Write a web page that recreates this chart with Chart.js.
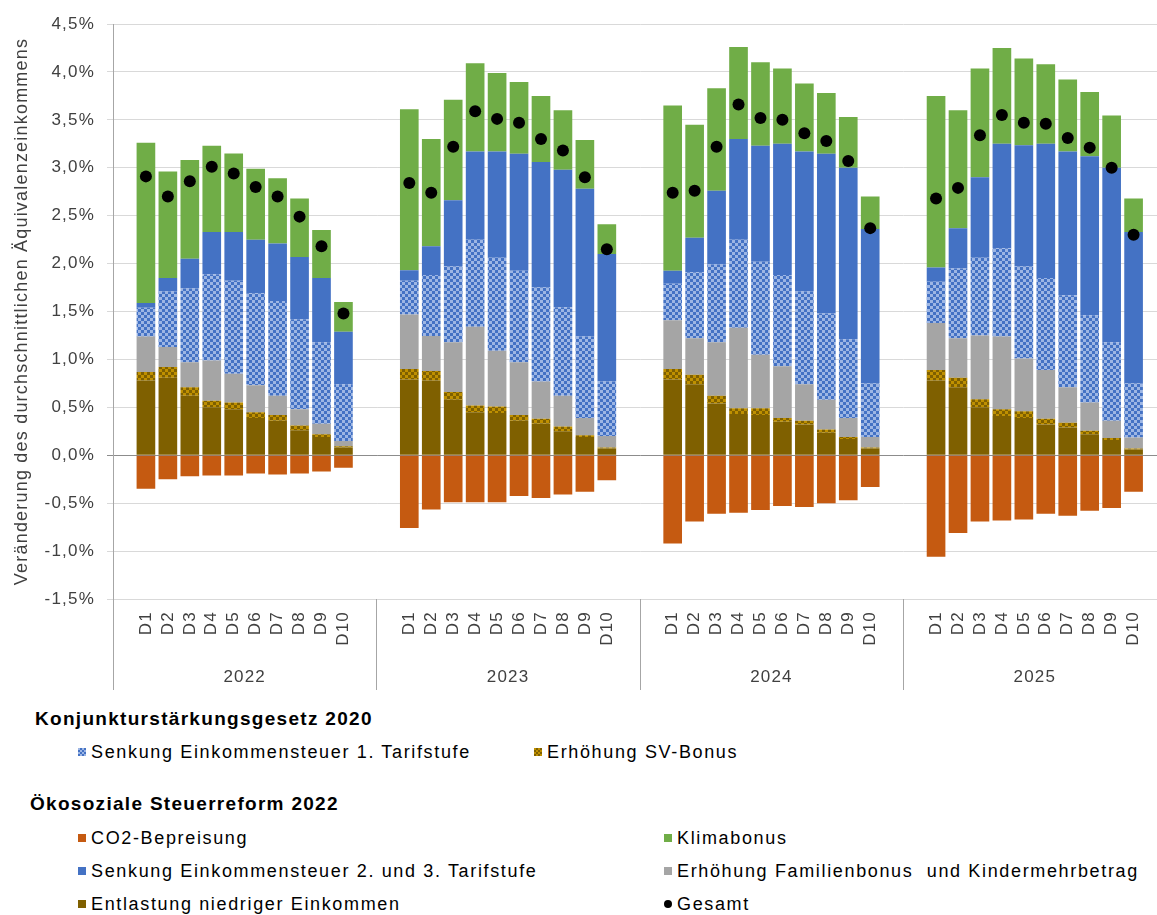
<!DOCTYPE html>
<html>
<head>
<meta charset="utf-8">
<script src="https://cdn.jsdelivr.net/npm/chart.js@4.4.0/dist/chart.umd.min.js"></script>
<style>
  body { margin:0; background:#fff; overflow:hidden; width:1157px; height:915px; }
  #wrap { position:absolute; left:0; top:0; width:1190px; height:700px; }
  .lg { position:absolute; font-family:"Liberation Sans", Arial, sans-serif; color:#000; white-space:nowrap; }
  .head { font-size:19px; font-weight:bold; letter-spacing:1.3px; line-height:22px; }
  .item { font-size:18px; letter-spacing:1.65px; line-height:22px; display:flex; align-items:center; }
  .sw { display:inline-block; width:8px; height:8px; margin-right:5px; }
</style>
</head>
<body>
<div id="wrap"><canvas id="chart" width="1188" height="700"></canvas></div>
<div id="legend"></div>
<script>
// values in % change of mean equivalised income, order: 2022 D1..D10, 2023 .., 2024 .., 2025 ..
var years = ['2022', '2023', '2024', '2025']
var deciles = ['D1','D2','D3','D4','D5','D6','D7','D8','D9','D10']

var entlastung = [0.78,0.81,0.62,0.50,0.48,0.39,0.36,0.26,0.19,0.08,
                  0.79,0.78,0.58,0.45,0.44,0.36,0.33,0.25,0.19,0.07,
                  0.79,0.74,0.54,0.43,0.42,0.35,0.32,0.235,0.17,0.07,
                  0.78,0.71,0.50,0.41,0.39,0.32,0.29,0.22,0.16,0.06]
var svBonus = [0.09,0.11,0.09,0.07,0.07,0.06,0.06,0.05,0.03,0.015,
               0.11,0.10,0.08,0.07,0.07,0.06,0.05,0.05,0.02,0.01,
               0.11,0.10,0.08,0.06,0.07,0.04,0.04,0.035,0.02,0.01,
               0.11,0.10,0.085,0.07,0.07,0.06,0.05,0.035,0.02,0.01]
var familienbonus = [0.37,0.21,0.26,0.42,0.30,0.28,0.20,0.17,0.11,0.055,
                     0.57,0.365,0.52,0.82,0.58,0.55,0.39,0.32,0.18,0.12,
                     0.51,0.38,0.56,0.84,0.56,0.54,0.38,0.31,0.20,0.11,
                     0.49,0.41,0.665,0.76,0.55,0.51,0.37,0.295,0.18,0.115]
var est1 = [0.30,0.58,0.77,0.90,0.97,0.96,0.99,0.94,0.85,0.59,
            0.35,0.635,0.79,0.91,0.97,0.955,0.98,0.925,0.85,0.57,
            0.38,0.69,0.81,0.92,0.97,0.95,0.97,0.90,0.82,0.56,
            0.43,0.73,0.81,0.92,0.96,0.96,0.96,0.91,0.82,0.565]
var est23 = [0.05,0.14,0.31,0.44,0.51,0.56,0.60,0.65,0.67,0.55,
             0.11,0.30,0.69,0.92,1.11,1.22,1.31,1.435,1.54,1.33,
             0.135,0.36,0.77,1.05,1.21,1.37,1.46,1.665,1.79,1.61,
             0.15,0.42,0.84,1.09,1.265,1.40,1.50,1.66,1.82,1.58]
var klimabonus = [1.67,1.11,1.03,0.90,0.82,0.74,0.68,0.61,0.50,0.31,
                  1.68,1.12,1.05,0.92,0.82,0.75,0.69,0.62,0.51,0.31,
                  1.725,1.18,1.07,0.96,0.87,0.785,0.71,0.635,0.53,0.34,
                  1.79,1.23,1.135,1.00,0.905,0.83,0.75,0.67,0.545,0.35]
var co2 = [-0.35,-0.25,-0.22,-0.21,-0.21,-0.19,-0.20,-0.19,-0.17,-0.13,
           -0.76,-0.565,-0.49,-0.49,-0.49,-0.425,-0.445,-0.41,-0.38,-0.26,
           -0.92,-0.69,-0.61,-0.60,-0.57,-0.53,-0.54,-0.50,-0.47,-0.33,
           -1.06,-0.81,-0.69,-0.68,-0.67,-0.61,-0.63,-0.58,-0.55,-0.38]
var gesamt = [2.91,2.70,2.86,3.01,2.94,2.80,2.70,2.49,2.18,1.48,
              2.84,2.74,3.22,3.59,3.51,3.47,3.30,3.18,2.90,2.15,
              2.74,2.76,3.22,3.66,3.52,3.50,3.36,3.28,3.07,2.37,
              2.68,2.79,3.34,3.55,3.47,3.46,3.31,3.21,3.00,2.30]

var yTicks = [-1.5,-1.0,-0.5,0,0.5,1.0,1.5,2.0,2.5,3.0,3.5,4.0,4.5]

// every year gets an empty slot before and after its ten deciles
var slotsPerYear = 12
function pad(arr, blank) {
  var out = []
  for (var y = 0; y < years.length; y++) {
    out.push(blank)
    for (var d = 0; d < deciles.length; d++) out.push(arr[y*10 + d])
    out.push(blank)
  }
  return out
}
var labels = pad(years.flatMap(function(){ return deciles }), '')

var ctx = document.getElementById('chart').getContext('2d')

function checker(c1, c2, s) {
  var cv = document.createElement('canvas')
  cv.width = cv.height = 2*s
  var x = cv.getContext('2d')
  x.fillStyle = c1; x.fillRect(0, 0, 2*s, 2*s)
  x.fillStyle = c2; x.fillRect(0, 0, s, s); x.fillRect(s, s, s, s)
  return ctx.createPattern(cv, 'repeat')
}

var cBrown = '#7F6000', cGold = '#BF9000', cGray = '#A5A5A5', cBlue = '#4472C4',
    cLightBlue = '#9DB6E4', cGreen = '#70AD47', cOrange = '#C55A11'

var font = '"Liberation Sans", Arial, sans-serif'
var textColor = '#404040'

function setSpacing(chart) { chart.ctx.letterSpacing = '1.2px' }

var extras = {
  id: 'extras',
  beforeUpdate: setSpacing,
  beforeLayout: setSpacing,
  beforeDraw: setSpacing,
  afterDraw: function(chart) {
    var xs = chart.scales.x, area = chart.chartArea, c = chart.ctx
    var slot = (xs.right - xs.left) / labels.length
    c.save()
    c.strokeStyle = '#A6A6A6'
    c.lineWidth = 1
    for (var g = 0; g <= years.length; g++) {
      var x = Math.round(xs.left + g*slotsPerYear*slot) + 0.5
      c.beginPath()
      c.moveTo(x, g === 0 ? area.top : area.bottom)
      c.lineTo(x, area.bottom + 91)
      c.stroke()
    }
    c.fillStyle = textColor
    c.font = '17px ' + font
    c.textAlign = 'center'
    c.textBaseline = 'middle'
    for (var g = 0; g < years.length; g++) {
      var cx = xs.left + (g + 0.5)*slotsPerYear*slot
      c.fillText(years[g], cx, area.bottom + 78)
    }
    c.restore()
  }
}

function barSet(label, data, color) {
  return { type:'bar', label:label, data:pad(data, null), backgroundColor:color,
           borderWidth:0, barPercentage:0.85, categoryPercentage:1.0, order:2 }
}

var chart = new Chart(ctx, {
  data: {
    labels: labels,
    datasets: [
      barSet('Entlastung niedriger Einkommen', entlastung, cBrown),
      barSet('Erhöhung SV-Bonus', svBonus, checker(cBrown, cGold, 3)),
      barSet('Erhöhung Familienbonus  und Kindermehrbetrag', familienbonus, cGray),
      barSet('Senkung Einkommensteuer 1. Tarifstufe', est1, checker(cBlue, cLightBlue, 3)),
      barSet('Senkung Einkommensteuer 2. und 3. Tarifstufe', est23, cBlue),
      barSet('Klimabonus', klimabonus, cGreen),
      barSet('CO2-Bepreisung', co2, cOrange),
      { type:'line', label:'Gesamt', data:pad(gesamt, null), showLine:false, stack:'gesamt',
        pointRadius:6, pointHoverRadius:6, pointBackgroundColor:'#000', pointBorderColor:'#000',
        pointBorderWidth:0, order:0 }
    ]
  },
  options: {
    responsive: false,
    devicePixelRatio: 1,
    animation: false,
    events: [],
    layout: { padding: { top:24, left:0, right:5, bottom:0 } },
    plugins: { legend:{ display:false }, tooltip:{ enabled:false } },
    scales: {
      x: {
        stacked: true,
        grid: { display:false, drawTicks:false },
        border: { display:false },
        ticks: { autoSkip:false, maxRotation:90, minRotation:90, padding:12,
                 color:textColor, font:{ family:font, size:17 } },
        afterFit: function(s) { s.height = 101 }
      },
      y: {
        stacked: true,
        min: -1.5, max: 4.5,
        afterBuildTicks: function(s) { s.ticks = yTicks.map(function(v){ return { value:v } }) },
        grid: {
          color: function(c) { return c.tick && c.tick.value === 0 ? '#8C8C8C' : '#D9D9D9' },
          tickLength: 6
        },
        border: { display:true, color:'#A6A6A6' },
        ticks: { padding:12, color:textColor, font:{ family:font, size:17 },
                 callback: function(v) { return v.toFixed(1).replace('.', ',') + '%' } },
        title: { display:true, text:'Veränderung des durchschnittlichen Äquivalenzeinkommens',
                 color:textColor, font:{ family:font, size:18 }, padding:{ top:11, bottom:0 } },
        afterFit: function(s) { s.width = 113 }
      }
    }
  },
  plugins: [extras]
})

// legend below the chart
var legendItems = [
  { head:'Konjunkturstärkungsgesetz 2020', x:35, y:719 },
  { text:'Senkung Einkommensteuer 1. Tarifstufe', sw:'repeating-conic-gradient(' + cBlue + ' 0 25%, ' + cLightBlue + ' 0 50%) 0 0/4px 4px', x:78, y:752 },
  { text:'Erhöhung SV-Bonus', sw:'repeating-conic-gradient(' + cBrown + ' 0 25%, ' + cGold + ' 0 50%) 0 0/4px 4px', x:534, y:752 },
  { head:'Ökosoziale Steuerreform 2022', x:30, y:804 },
  { text:'CO2-Bepreisung', sw:cOrange, x:78, y:838 },
  { text:'Klimabonus', sw:cGreen, x:664, y:838 },
  { text:'Senkung Einkommensteuer 2. und 3. Tarifstufe', sw:cBlue, x:78, y:871 },
  { text:'Erhöhung Familienbonus  und Kindermehrbetrag', sw:cGray, x:664, y:871 },
  { text:'Entlastung niedriger Einkommen', sw:cBrown, x:78, y:904 },
  { text:'Gesamt', sw:'#000', round:true, x:664, y:904 }
]
var html = ''
for (var i = 0; i < legendItems.length; i++) {
  var it = legendItems[i]
  if (it.head) {
    html += '<div class="lg head" style="left:' + it.x + 'px;top:' + (it.y - 11) + 'px">' + it.head + '</div>'
  } else {
    html += '<div class="lg item" style="left:' + it.x + 'px;top:' + (it.y - 11) + 'px">' +
      '<span class="sw" style="background:' + it.sw + ';' + (it.round ? 'border-radius:50%;' : '') + '"></span>' +
      it.text.replace(/  /g, ' &nbsp;') + '</div>'
  }
}
document.getElementById('legend').innerHTML = html
</script>
</body>
</html>
